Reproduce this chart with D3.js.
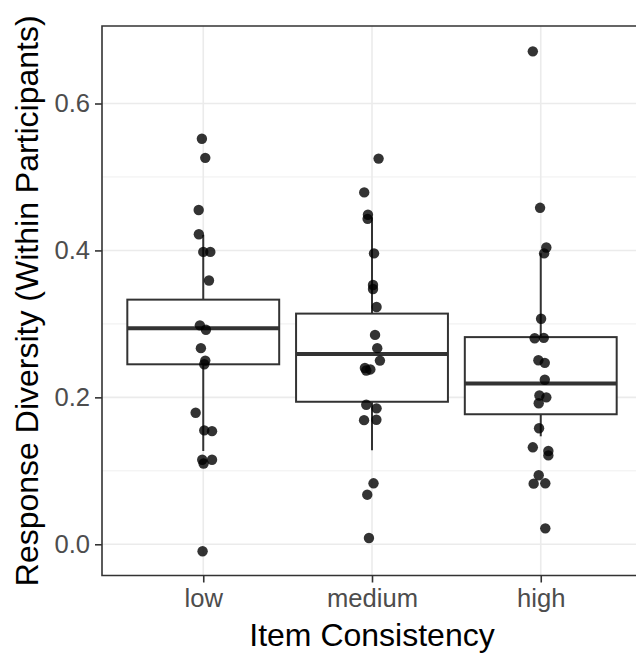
<!DOCTYPE html>
<html lang="en">
<head>
    <meta charset="utf-8">
    <title>Response Diversity by Item Consistency</title>
    <script src="https://d3js.org/d3.v7.min.js"></script>
    <style>
    html, body {
        margin: 0;
        overflow: hidden;
        background: #fff;
        font-family: "Liberation Sans", Arial, sans-serif;
    }
    svg { display: block; overflow: hidden; }
    </style>
</head>
<body>
    <script>

    // categories and box summaries
    var categories = ["low", "medium", "high"];
    var whiskerLow  = [0.127, 0.128, 0.147];
    var q1          = [0.245, 0.194, 0.177];
    var median      = [0.294, 0.259, 0.219];
    var q3          = [0.333, 0.314, 0.282];
    var whiskerHigh = [0.421, 0.445, 0.396];

    // participant points: value and horizontal jitter (category units)
    var lowValues = [0.552, 0.526, 0.455, 0.422, 0.398, 0.398, 0.359, 0.298, 0.292, 0.267,
                     0.250, 0.245, 0.179, 0.155, 0.154, 0.115, 0.115, 0.110, -0.0095];
    var lowJitter = [-0.008, 0.012, -0.027, -0.026, 0.0, 0.042, 0.034, -0.020, 0.016, -0.014,
                     0.012, 0.006, -0.045, 0.006, 0.052, -0.006, 0.052, 0.002, -0.004];

    var mediumValues = [0.525, 0.479, 0.4485, 0.443, 0.396, 0.353, 0.3475, 0.323, 0.285, 0.267,
                        0.250, 0.240, 0.238, 0.2365, 0.190, 0.185, 0.169, 0.1695, 0.083, 0.0675, 0.0086];
    var mediumJitter = [0.039, -0.046, -0.024, -0.026, 0.012, 0.006, 0.006, 0.027, 0.018, 0.031,
                        0.047, -0.042, -0.010, -0.034, -0.034, 0.027, -0.047, 0.026, 0.009, -0.028, -0.018];

    var highValues = [0.671, 0.458, 0.404, 0.396, 0.307, 0.281, 0.2805, 0.2505, 0.247, 0.224,
                      0.2025, 0.200, 0.192, 0.158, 0.132, 0.127, 0.121, 0.094, 0.0825, 0.083, 0.0217];
    var highJitter = [-0.047, -0.004, 0.033, 0.020, 0.002, 0.018, -0.036, -0.014, 0.024, 0.024,
                      -0.008, 0.033, -0.012, -0.010, -0.047, 0.045, 0.045, -0.012, -0.042, 0.027, 0.027];

    var yTicks = [0.0, 0.2, 0.4, 0.6];
    var yMinor = [0.1, 0.3, 0.5];

    var width = 636,
        height = 653;

    // the panel runs past the right edge of the picture, as in the original crop
    var panel = { left: 102, right: 642, top: 26, bottom: 575.5 };

    var svg = d3.select("body")
        .append("svg")
        .attr("width", width)
        .attr("height", height);

    // x: category index (with ggplot's 0.6 discrete expansion)
    var x = d3.scaleLinear()
        .domain([-0.6, categories.length - 1 + 0.6])
        .range([panel.left, panel.right]);

    var y = d3.scaleLinear()
        .domain([-0.0425, 0.7055])
        .range([panel.bottom, panel.top]);

    // build point table
    var points = [];
    [lowValues, mediumValues, highValues].forEach(function(vals, i) {
        var jit = [lowJitter, mediumJitter, highJitter][i];
        vals.forEach(function(v, j) {
            points.push({ cat: i, value: v, jitter: jit[j] });
        });
    });

    var boxes = categories.map(function(c, i) {
        return { cat: i, lo: whiskerLow[i], q1: q1[i], med: median[i], q3: q3[i], hi: whiskerHigh[i] };
    });

    var defs = svg.append("defs");
    defs.append("clipPath").attr("id", "panel-clip")
        .append("rect")
        .attr("x", panel.left)
        .attr("y", panel.top)
        .attr("width", width - panel.left)
        .attr("height", panel.bottom - panel.top);
    defs.append("clipPath").attr("id", "page-clip")
        .append("rect")
        .attr("x", 0).attr("y", 0)
        .attr("width", width).attr("height", height);

    var g = svg.append("g").attr("clip-path", "url(#panel-clip)");

    // grid lines
    g.selectAll(".minor")
        .data(yMinor)
        .enter()
        .append("line")
        .attr("x1", panel.left).attr("x2", panel.right)
        .attr("y1", function(d) { return y(d); })
        .attr("y2", function(d) { return y(d); })
        .attr("stroke", "#EBEBEB")
        .attr("stroke-width", 0.8);

    g.selectAll(".majorY")
        .data(yTicks)
        .enter()
        .append("line")
        .attr("x1", panel.left).attr("x2", panel.right)
        .attr("y1", function(d) { return y(d); })
        .attr("y2", function(d) { return y(d); })
        .attr("stroke", "#EBEBEB")
        .attr("stroke-width", 1.6);

    g.selectAll(".majorX")
        .data(categories)
        .enter()
        .append("line")
        .attr("x1", function(d, i) { return x(i); })
        .attr("x2", function(d, i) { return x(i); })
        .attr("y1", panel.top).attr("y2", panel.bottom)
        .attr("stroke", "#EBEBEB")
        .attr("stroke-width", 1.6);

    // boxplots
    var halfBox = 0.45;

    g.selectAll(".whisker")
        .data(boxes)
        .enter()
        .append("line")
        .attr("x1", function(d) { return x(d.cat); })
        .attr("x2", function(d) { return x(d.cat); })
        .attr("y1", function(d) { return y(d.lo); })
        .attr("y2", function(d) { return y(d.hi); })
        .attr("stroke", "#333333")
        .attr("stroke-width", 2);

    g.selectAll(".box")
        .data(boxes)
        .enter()
        .append("rect")
        .attr("x", function(d) { return x(d.cat - halfBox); })
        .attr("width", function(d) { return x(d.cat + halfBox) - x(d.cat - halfBox); })
        .attr("y", function(d) { return y(d.q3); })
        .attr("height", function(d) { return y(d.q1) - y(d.q3); })
        .attr("fill", "#fff")
        .attr("stroke", "#333333")
        .attr("stroke-width", 2);

    g.selectAll(".median")
        .data(boxes)
        .enter()
        .append("line")
        .attr("x1", function(d) { return x(d.cat - halfBox); })
        .attr("x2", function(d) { return x(d.cat + halfBox); })
        .attr("y1", function(d) { return y(d.med); })
        .attr("y2", function(d) { return y(d.med); })
        .attr("stroke", "#333333")
        .attr("stroke-width", 4);

    // jittered points
    g.selectAll(".pt")
        .data(points)
        .enter()
        .append("circle")
        .attr("cx", function(d) { return x(d.cat + d.jitter); })
        .attr("cy", function(d) { return y(d.value); })
        .attr("r", 5.2)
        .attr("fill", "#000")
        .attr("fill-opacity", 0.8);

    // panel border: left, top and bottom only, the right side is off the picture
    var border = svg.append("g").attr("clip-path", "url(#page-clip)");
    border.append("path")
        .attr("d", "M" + (width + 2) + "," + panel.top +
                   "H" + panel.left +
                   "V" + panel.bottom +
                   "H" + (width + 2))
        .attr("fill", "none")
        .attr("stroke", "#333333")
        .attr("stroke-width", 1.6);

    // y axis
    var yAxis = svg.append("g")
        .attr("transform", "translate(" + panel.left + ",0)")
        .call(d3.axisLeft(y).tickValues(yTicks).tickFormat(d3.format(".1f")).tickSize(7).tickPadding(5));

    // x axis
    var xAxis = svg.append("g")
        .attr("transform", "translate(0," + panel.bottom + ")")
        .call(d3.axisBottom(x).tickValues(d3.range(categories.length))
            .tickFormat(function(i) { return categories[i]; }).tickSize(7).tickPadding(6));

    [yAxis, xAxis].forEach(function(ax) {
        ax.select(".domain").remove();
        ax.selectAll(".tick line").attr("stroke", "#333333").attr("stroke-width", 1.6);
        ax.selectAll(".tick text")
            .attr("fill", "#4D4D4D")
            .style("font-family", "'Liberation Sans', Arial, sans-serif")
            .style("font-size", "25.6px");
    });

    // axis titles
    svg.append("text")
        .attr("x", (panel.left + panel.right) / 2)
        .attr("y", 646)
        .attr("text-anchor", "middle")
        .style("font-size", "32px")
        .attr("fill", "#000")
        .text("Item Consistency");

    svg.append("text")
        .attr("transform", "translate(37.5," + ((panel.top + panel.bottom) / 2) + ") rotate(-90)")
        .attr("text-anchor", "middle")
        .style("font-size", "32px")
        .attr("fill", "#000")
        .text("Response Diversity (Within Participants)");

    </script>
</body>
</html>
